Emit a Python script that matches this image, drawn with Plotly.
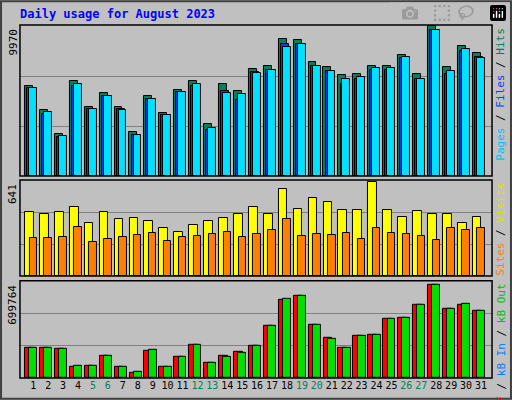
import plotly.graph_objects as go

days = list(range(1, 32))
hits = [6009,4406,2804,6342,4607,5541,4607,2938,5341,4206,5742,6342,3472,6142,5675,7144,7344,9080,9013,7611,7277,6743,6810,7344,7344,8011,6810,9970,7277,8612,8145]
files = [5875,4139,2604,6009,4473,5341,4473,2737,5141,4072,5608,6009,3071,5675,5074,6943,7077,8746,8746,7344,7010,6142,6476,7077,7077,7811,6476,9680,6810,8278,7878]
pages = [5875,4273,2670,6142,4473,5341,4406,2737,5141,4072,5608,6142,3205,5541,5474,6876,7077,8546,8746,7344,7010,6476,6609,7210,7210,7878,6476,9680,7010,8412,7811]
visits = [439,425,439,472,364,439,391,398,378,324,297,344,378,398,425,472,425,594,459,533,506,452,452,641,452,405,445,425,425,364,405]
sites = [256,256,263,331,229,250,263,277,290,236,263,270,283,297,263,283,310,385,270,283,277,290,250,324,290,283,270,243,324,310,324]
kb_f = [229152,229152,221760,81312,88704,162624,81312,36960,206976,81312,155232,251328,110880,162624,199584,243936,391776,583968,613536,399168,303072,229152,317856,325248,443520,450912,547008,699764,517440,547008,502656]
kb_out = [229152,229152,221760,88704,88704,162624,81312,44352,214368,81312,155232,251328,110880,155232,192192,243936,391776,591360,613536,399168,295680,229152,317856,325248,443520,450912,547008,699764,517440,554400,502656]
weekend = [5, 6, 12, 13, 19, 20, 26, 27]
max_hits, max_visits, max_kb = 9970, 641, 699764

FONT = "DejaVu Sans Mono"
fig = go.Figure()
line = dict(color="black", width=1)

def bars(y, color, off, w, xa, ya):
    fig.add_trace(go.Bar(x=[d + off for d in days], y=y, width=w, marker=dict(color=color, line=line),
                         xaxis=xa, yaxis=ya, showlegend=False, hoverinfo="skip"))

bars(hits, "#00805C", -0.29, 0.53, "x", "y")
bars(files, "#0040FF", -0.15, 0.53, "x", "y")
bars(pages, "#00E0FF", -0.02, 0.53, "x", "y")
bars(visits, "#FFFF00", -0.26, 0.58, "x2", "y2")
bars(sites, "#FF8000", 0.0, 0.5, "x2", "y2")
bars(kb_f, "#FF0000", -0.26, 0.58, "x3", "y3")
bars(kb_out, "#00E000", 0.0, 0.53, "x3", "y3")

xr = [0.11, 31.74]
ticktext = [f'<span style="color:#00805C">{d}</span>' if d in weekend else str(d) for d in days]
common_x = dict(range=xr, showgrid=False, zeroline=False, showline=False, fixedrange=True)
doms = {"y": [0.56, 0.9375], "y2": [0.31, 0.55], "y3": [0.055, 0.298]}
maxes = {"y": max_hits * 150 / 149, "y2": max_visits * 1.02, "y3": max_kb * 1.04}
lay = dict(width=512, height=400, margin=dict(l=0, r=0, t=0, b=0), paper_bgcolor="#C0C0C0",
           plot_bgcolor="#C0C0C0", barmode="overlay", bargap=0,
           xaxis=dict(common_x, domain=[0.039, 0.961], anchor="y", showticklabels=False),
           xaxis2=dict(common_x, domain=[0.039, 0.961], anchor="y2", showticklabels=False),
           xaxis3=dict(common_x, domain=[0.039, 0.961], anchor="y3", tickvals=days, ticktext=ticktext,
                       ticks="", tickangle=0, ticklabeloverflow="allow",
                       tickfont=dict(family=FONT, size=10, color="black")))
for k in ["y", "y2", "y3"]:
    top = maxes[k]
    name = "yaxis" if k == "y" else "yaxis" + k[1]
    g = top / 3 if k != "y" else max_hits / 3
    lay[name] = dict(domain=doms[k], range=[0, top], tickvals=[g, 2 * g], showticklabels=False,
                     gridcolor="#808080", gridwidth=1, zeroline=False, fixedrange=True,
                     anchor="x" if k == "y" else "x" + k[1])
fig.update_layout(**lay)

shapes = [dict(type="rect", xref="paper", yref="paper", x0=0.002, y0=0.003, x1=0.998, y1=0.997,
               line=dict(color="#404040", width=2))]
for d in doms.values():
    shapes.append(dict(type="rect", xref="paper", yref="paper", x0=0.039, x1=0.961, y0=d[0], y1=d[1],
                       line=dict(color="black", width=1.5), layer="above"))
fig.update_layout(shapes=shapes)

ann = [dict(text="<b>Daily usage for August 2023</b>", x=18 / 512, y=1 - 5 / 400, xref="paper", yref="paper",
            xanchor="left", yanchor="top", showarrow=False, font=dict(family=FONT, size=12, color="#0000FF"))]
for lbl, d in [(str(max_hits), doms["y"]), (str(max_visits), doms["y2"]), (str(max_kb), doms["y3"])]:
    ann.append(dict(text=lbl, textangle=-90, x=13 / 512, y=d[1] - 0.005, xref="paper", yref="paper",
                    xanchor="center", yanchor="top", showarrow=False, font=dict(family=FONT, size=11, color="black")))
sl = '<span style="color:black">/</span>'
legends = [
    (f'<span style="color:#00C0FF">Pages</span> {sl} <span style="color:#0040FF">Files</span> {sl} <span style="color:#00805C">Hits</span>', doms["y"]),
    (f'<span style="color:#FF8000">Sites</span> {sl} <span style="color:#E0E000">Visits</span>', doms["y2"]),
    (f'<span style="color:#FF0000">kB F</span> {sl} <span style="color:#0080FF">kB In</span> {sl} <span style="color:#00C000">kB Out</span>', doms["y3"]),
]
for t, d in legends:
    ann.append(dict(text=t, textangle=-90, x=501 / 512, y=d[1] - 0.003, xref="paper", yref="paper",
                    xanchor="center", yanchor="top", showarrow=False, font=dict(family=FONT, size=11)))
fig.update_layout(annotations=ann)
fig.write_html("out.html", post_script="document.body.style.margin='0';document.body.style.overflow='hidden';")
